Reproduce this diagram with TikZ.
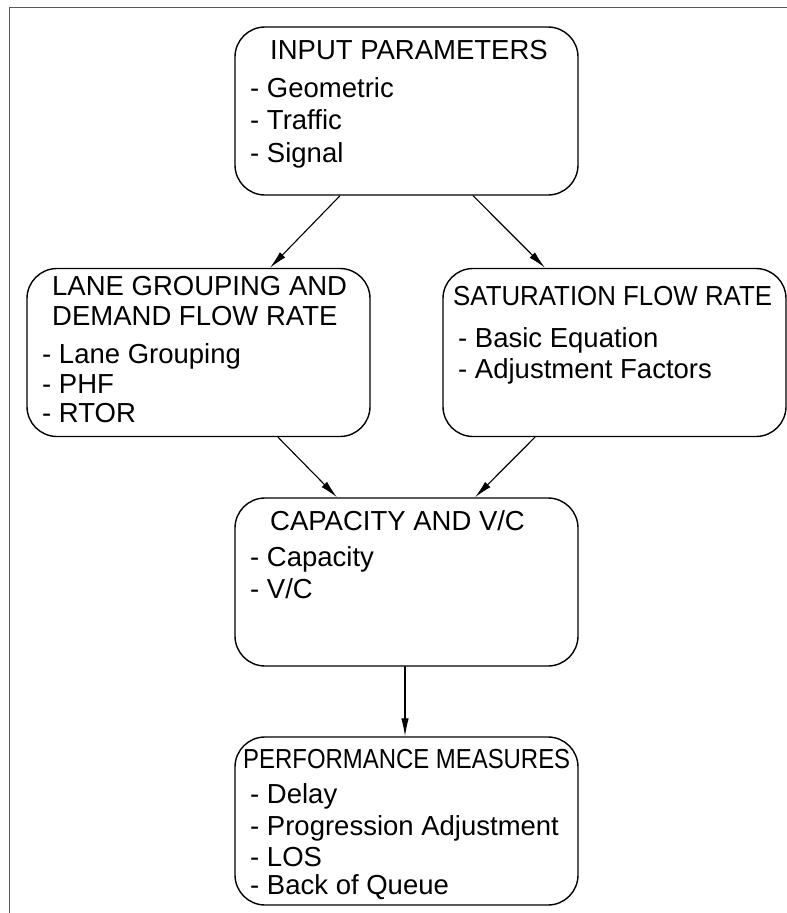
\documentclass[tikz,border=0pt]{standalone}
\usepackage{fontspec}
\usepackage{graphicx}
\setmainfont{Liberation Sans}
\usetikzlibrary{arrows.meta}
\definecolor{frmgray}{rgb}{0.35,0.35,0.35}

\begin{document}
\begin{tikzpicture}[line cap=round,line join=round,>={Latex[length=18pt,width=7.5pt]},x=1pt,y=-1pt,
  stagebox/.style={draw,line width=1.4pt,rounded corners=30pt,minimum width=343pt,minimum height=168pt,inner sep=0pt},
  txt/.style={anchor=base west,inner sep=0pt,font=\fontsize{27.5}{30}\selectfont},
  flow/.style={->,line width=1.1pt}]
\useasboundingbox (0,0) rectangle (787,913);
% frame
\draw [color=frmgray,line width=1.8pt] (787,7.5) -- (9.5,7.5) -- (9.5,913);
% boxes
\node [stagebox] (input) at (406.5,111) {};
\node [stagebox] (lane) at (198.5,352.5) {};
\node [stagebox] (sat) at (614.5,352.5) {};
\node [stagebox] (cap) at (406.5,582) {};
\node [stagebox] (perf) at (406.5,821) {};
% texts
\node [txt] (inputT) at (270,59) {INPUT PARAMETERS};
\node [txt] (inputA) at (250,97) {- Geometric};
\node [txt] (inputB) at (250,129) {- Traffic};
\node [txt] (inputC) at (250,162) {- Signal};
\node [txt] (laneT) at (52,295) {LANE GROUPING AND};
\node [txt] (laneU) at (52,325) {DEMAND FLOW RATE};
\node [txt] (laneA) at (42,363) {- Lane Grouping};
\node [txt] (laneB) at (42,393) {- PHF};
\node [txt] (laneC) at (42,422) {- RTOR};
\node [txt] (satT) at (453,305) {\scalebox{0.94}[1]{SATURATION FLOW RATE}};
\node [txt] (satA) at (458,347) {- Basic Equation};
\node [txt] (satB) at (458,378) {- Adjustment Factors};
\node [txt] (capT) at (270,530) {CAPACITY AND V/C};
\node [txt] (capA) at (250,566) {- Capacity};
\node [txt] (capB) at (250,598) {- V/C};
\node [txt] (perfT) at (243,768) {\scalebox{0.87}[1]{PERFORMANCE MEASURES}};
\node [txt] (perfA) at (250,803) {- Delay};
\node [txt] (perfB) at (250,835) {- Progression Adjustment};
\node [txt] (perfC) at (250,866) {- LOS};
\node [txt] (perfD) at (250,894) {- Back of Queue};
% connectors
\draw [flow] ([xshift=-66.5pt]input.south) -- ([xshift=71.5pt]lane.north);
\draw [flow] ([xshift=66.5pt]input.south) -- ([xshift=-69.5pt]sat.north);
\draw [flow] ([xshift=79.5pt]lane.south) -- ([xshift=-69.5pt]cap.north);
\draw [flow] ([xshift=-79.5pt]sat.south) -- ([xshift=68.5pt]cap.north);
\draw [flow] ([xshift=-1.5pt]cap.south) -- ([xshift=-1.5pt]perf.north);
\end{tikzpicture}
\end{document}
